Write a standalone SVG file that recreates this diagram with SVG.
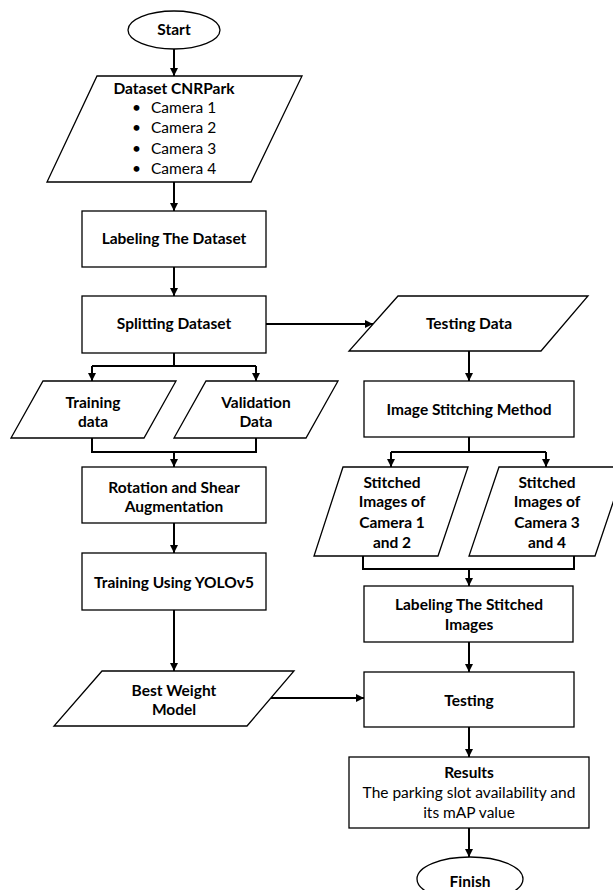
<svg xmlns="http://www.w3.org/2000/svg" width="613" height="890" viewBox="0 0 613 890">
<style>
  .shape { fill: #ffffff; stroke: #000000; stroke-width: 1.3; }
  .conn { fill: none; stroke: #000000; stroke-width: 2; }
  .arr { marker-end: url(#ah); }
  text { font-family: Lato, "Liberation Sans", Arial, sans-serif; font-size: 15.5px; fill: #000000; }
  .b { font-weight: bold; }
  .c { text-anchor: middle; }
</style>
<defs>
  <marker id="ah" markerUnits="userSpaceOnUse" markerWidth="9" markerHeight="9" refX="8" refY="4" orient="auto">
    <path d="M0,0 L8,4 L0,8 z" fill="#000000"/>
  </marker>
</defs>
<rect x="0" y="0" width="613" height="890" fill="#ffffff"/>

<g id="connectors">
  <line class="conn arr" x1="174" y1="49" x2="174" y2="76"/>
  <line class="conn arr" x1="174" y1="182" x2="174" y2="211"/>
  <line class="conn arr" x1="174" y1="267" x2="174" y2="296"/>
  <line class="conn arr" x1="266" y1="324" x2="373" y2="324"/>
  <polyline class="conn" points="174,353 174,366"/>
  <polyline class="conn" points="92,366 256,366"/>
  <line class="conn arr" x1="92" y1="366" x2="92" y2="381"/>
  <line class="conn arr" x1="256" y1="366" x2="256" y2="381"/>
  <polyline class="conn" points="92,438 92,452 256,452 256,438"/>
  <line class="conn arr" x1="174" y1="452" x2="174" y2="467"/>
  <line class="conn arr" x1="174" y1="523" x2="174" y2="553"/>
  <line class="conn arr" x1="174" y1="610" x2="174" y2="671"/>
  <line class="conn arr" x1="271" y1="698" x2="364" y2="698"/>
  <line class="conn arr" x1="469" y1="351" x2="469" y2="381"/>
  <polyline class="conn" points="469,437 469,452"/>
  <polyline class="conn" points="391,452 546,452"/>
  <line class="conn arr" x1="391" y1="452" x2="391" y2="467"/>
  <line class="conn arr" x1="546" y1="452" x2="546" y2="467"/>
  <polyline class="conn" points="363,556 363,569 574,569 574,556"/>
  <line class="conn arr" x1="469" y1="569" x2="469" y2="586"/>
  <line class="conn arr" x1="469" y1="642" x2="469" y2="672"/>
  <line class="conn arr" x1="469" y1="727" x2="469" y2="757"/>
  <line class="conn arr" x1="469" y1="828" x2="469" y2="857"/>
</g>

<g id="start">
  <ellipse class="shape" cx="174" cy="30" rx="46" ry="19"/>
  <text class="b c" x="174" y="35">Start</text>
</g>

<g id="dataset">
  <polygon class="shape" points="97,76 302,76 251,182 47,182"/>
  <text class="b c" x="174" y="94">Dataset CNRPark</text>
  <text x="132" y="113">•</text><text x="151" y="113">Camera 1</text>
  <text x="132" y="133">•</text><text x="151" y="133">Camera 2</text>
  <text x="132" y="154">•</text><text x="151" y="154">Camera 3</text>
  <text x="132" y="174">•</text><text x="151" y="174">Camera 4</text>
</g>

<g id="labeling">
  <rect class="shape" x="82" y="211" width="184" height="56"/>
  <text class="b c" x="174" y="244">Labeling The Dataset</text>
</g>

<g id="splitting">
  <rect class="shape" x="82" y="296" width="184" height="57"/>
  <text class="b c" x="174" y="329">Splitting Dataset</text>
</g>

<g id="training-data">
  <polygon class="shape" points="43,381 176,381 144,438 11,438"/>
  <text class="b c" x="93" y="408">Training</text>
  <text class="b c" x="93" y="427">data</text>
</g>

<g id="validation-data">
  <polygon class="shape" points="206,381 338,381 306,438 174,438"/>
  <text class="b c" x="256" y="408">Validation</text>
  <text class="b c" x="256" y="427">Data</text>
</g>

<g id="augmentation">
  <rect class="shape" x="82" y="467" width="184" height="56"/>
  <text class="b c" x="174" y="493">Rotation and Shear</text>
  <text class="b c" x="174" y="512">Augmentation</text>
</g>

<g id="training-yolo">
  <rect class="shape" x="82" y="553" width="184" height="57"/>
  <text class="b c" x="174" y="588">Training Using YOLOv5</text>
</g>

<g id="best-weight">
  <polygon class="shape" points="102,671 294,671 247,726 54,726"/>
  <text class="b c" x="174" y="696">Best Weight</text>
  <text class="b c" x="174" y="715">Model</text>
</g>

<g id="testing-data">
  <polygon class="shape" points="398,296 588,296 541,351 349,351"/>
  <text class="b c" x="469" y="329">Testing Data</text>
</g>

<g id="stitching">
  <rect class="shape" x="364" y="381" width="210" height="56"/>
  <text class="b c" x="469" y="415">Image Stitching Method</text>
</g>

<g id="stitched-1-2">
  <polygon class="shape" points="343,467 468,467 438,556 314,556"/>
  <text class="b c" x="392" y="488">Stitched</text>
  <text class="b c" x="392" y="507">Images of</text>
  <text class="b c" x="392" y="528">Camera 1</text>
  <text class="b c" x="392" y="548">and 2</text>
</g>

<g id="stitched-3-4">
  <polygon class="shape" points="499,467 625,467 595,556 469,556"/>
  <text class="b c" x="547" y="488">Stitched</text>
  <text class="b c" x="547" y="507">Images of</text>
  <text class="b c" x="547" y="528">Camera 3</text>
  <text class="b c" x="547" y="548">and 4</text>
</g>

<g id="labeling-stitched">
  <rect class="shape" x="364" y="586" width="209" height="56"/>
  <text class="b c" x="469" y="610">Labeling The Stitched</text>
  <text class="b c" x="469" y="630">Images</text>
</g>

<g id="testing">
  <rect class="shape" x="364" y="672" width="210" height="55"/>
  <text class="b c" x="469" y="706">Testing</text>
</g>

<g id="results">
  <rect class="shape" x="349" y="757" width="240" height="71"/>
  <text class="b c" x="469" y="778">Results</text>
  <text class="c" x="469" y="798">The parking slot availability and</text>
  <text class="c" x="469" y="818">its mAP value</text>
</g>

<g id="finish">
  <ellipse class="shape" cx="470" cy="879" rx="53" ry="22"/>
  <text class="b c" x="470" y="887">Finish</text>
</g>
</svg>
